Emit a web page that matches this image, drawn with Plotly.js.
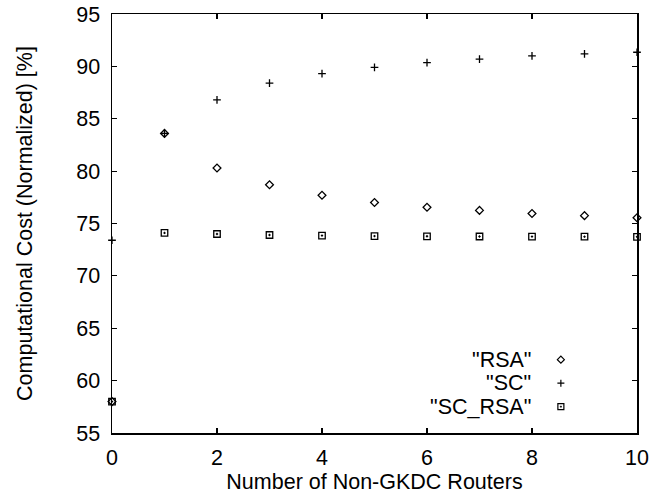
<!DOCTYPE html>
<html>
<head>
<meta charset="utf-8">
<script src="https://cdn.plot.ly/plotly-3.0.1.min.js"></script>
<style>
  html, body { margin: 0; padding: 0; background: #fff; }
  #chart { width: 653px; height: 494px; }
</style>
</head>
<body>
<div id="chart"></div>
<script>
// Data
const routers = [0, 1, 2, 3, 4, 5, 6, 7, 8, 9, 10];
const rsa     = [58.0, 83.6, 80.3, 78.7, 77.7, 77.0, 76.55, 76.25, 75.95, 75.75, 75.55];
const sc      = [73.4, 83.6, 86.8, 88.4, 89.3, 89.9, 90.35, 90.7, 91.0, 91.2, 91.35];
const scRsa   = [58.0, 74.1, 74.0, 73.9, 73.85, 73.8, 73.78, 73.76, 73.75, 73.74, 73.73];
const seriesNames = ['"RSA"', '"SC"', '"SC_RSA"'];
const xTicks = [0, 2, 4, 6, 8, 10];
const yTicks = [55, 60, 65, 70, 75, 80, 85, 90, 95];

const FONT = 'Liberation Sans, Arial, Helvetica, sans-serif';
const FS = 21.5;

const traces = [
  { x: routers, y: rsa, name: seriesNames[0], mode: 'markers', cliponaxis: false,
    marker: { symbol: 'diamond-open', size: 6, color: '#000', line: { width: 1.3, color: '#000' } } },
  { x: routers, y: sc, name: seriesNames[1], mode: 'markers', cliponaxis: false,
    marker: { symbol: 'cross-thin-open', size: 5.5, color: '#000', line: { width: 1.3, color: '#000' } } },
  { x: routers, y: scRsa, name: seriesNames[2], mode: 'markers', cliponaxis: false,
    marker: { symbol: 'square-open-dot', size: 6.5, color: '#000', line: { width: 1.3, color: '#000' } } }
];

// legend (gnuplot style: text right-aligned, key to the right)
const legX = 0.801, keyX = 0.855;
const legY = [0.175, 0.119, 0.063];
const keyPaths = [
  'M-3.5,0L0,3.5L3.5,0L0,-3.5Z',
  'M-3.5,0H3.5M0,-3.5V3.5',
  'M-3,-3H3V3H-3Z'
];
const annotations = seriesNames.map((n, i) => ({
  xref: 'paper', yref: 'paper', x: legX, y: legY[i], xanchor: 'right', yanchor: 'middle',
  text: n, showarrow: false, font: { family: FONT, size: FS, color: '#000' }
}));
const shapes = keyPaths.map((p, i) => ({
  type: 'path', xref: 'paper', yref: 'paper', xsizemode: 'pixel', ysizemode: 'pixel',
  xanchor: keyX, yanchor: legY[i], path: p, line: { color: '#000', width: 1.2 }
}));
shapes.push({
  type: 'path', xref: 'paper', yref: 'paper', xsizemode: 'pixel', ysizemode: 'pixel',
  xanchor: keyX, yanchor: legY[2], path: 'M-0.6,-0.6H0.6V0.6H-0.6Z',
  fillcolor: '#000', line: { color: '#000', width: 0.5 }
});

const axisCommon = {
  showline: true, linecolor: '#000', linewidth: 1.5, mirror: 'ticks',
  ticks: 'inside', ticklen: 5, tickwidth: 1.2, tickcolor: '#000',
  showgrid: false, zeroline: false, automargin: false,
  tickfont: { family: FONT, size: FS, color: '#000' }
};

const layout = {
  width: 653, height: 494,
  margin: { l: 112, r: 16, t: 14, b: 61 },
  paper_bgcolor: '#fff', plot_bgcolor: '#fff',
  showlegend: false,
  font: { family: FONT, color: '#000' },
  xaxis: Object.assign({}, axisCommon, {
    range: [0, 10], tickvals: xTicks, ticktext: xTicks.map(String),
    ticklabelstandoff: 5,
    title: { text: 'Number of Non-GKDC Routers', font: { family: FONT, size: FS, color: '#000' }, standoff: 1 }
  }),
  yaxis: Object.assign({}, axisCommon, {
    range: [55, 95], tickvals: yTicks, ticktext: yTicks.map(String),
    ticklabelstandoff: 6,
    title: { text: 'Computational Cost (Normalized) [%]', font: { family: FONT, size: FS, color: '#000' }, standoff: 38 }
  }),
  annotations: annotations,
  shapes: shapes
};

Plotly.newPlot('chart', traces, layout, { displayModeBar: false, staticPlot: true });
</script>
</body>
</html>
